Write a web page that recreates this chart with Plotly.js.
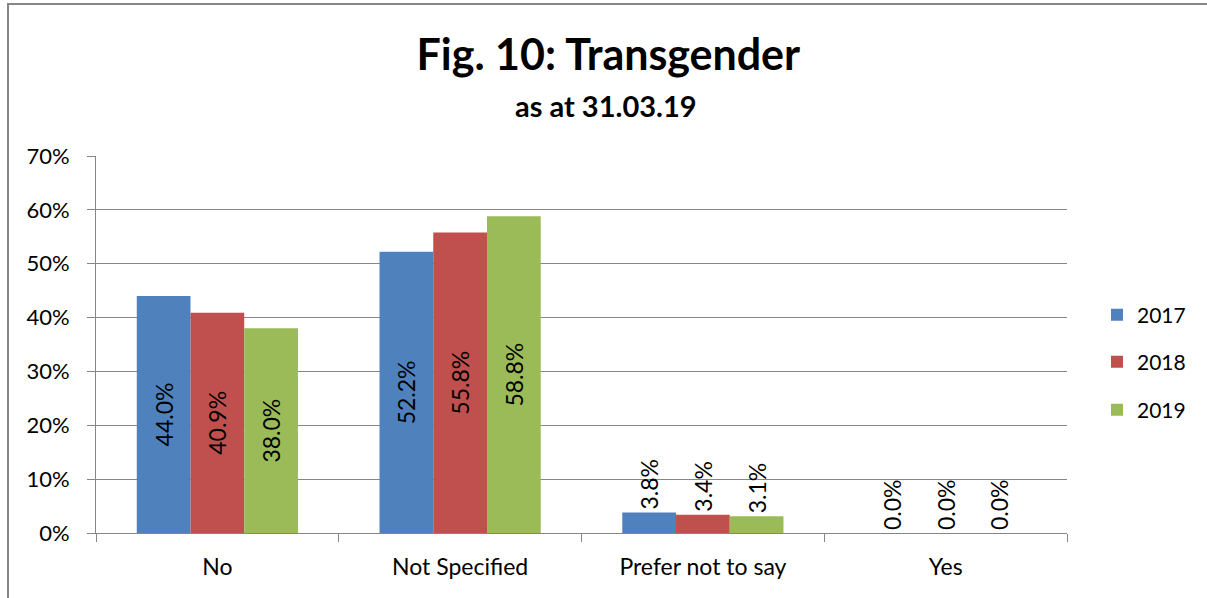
<!DOCTYPE html>
<html><head><meta charset="utf-8">
<script src="https://cdn.plot.ly/plotly-3.0.1.min.js"></script>
<style>html,body{margin:0;padding:0;background:#fff}#chart{width:1207px;height:598px}</style>
</head><body><div id="chart"></div>
<script>
const categories = ["No", "Not Specified", "Prefer not to say", "Yes"];
const years = ["2017", "2018", "2019"];
const v2017 = [0.440, 0.522, 0.038, 0.000];
const v2018 = [0.409, 0.558, 0.034, 0.000];
const v2019 = [0.380, 0.588, 0.031, 0.000];
const colors = ["#4F81BD", "#C0504D", "#9BBB59"];
const series = [v2017, v2018, v2019];
const FONT = "Lato, 'Open Sans', sans-serif";

const legendNames = ["legend", "legend2", "legend3"];
const traces = series.map((vals, i) => ({
  type: "bar", name: years[i], x: categories, y: vals,
  marker: {color: colors[i]},
  text: vals.map(v => (v * 100).toFixed(1) + "%"),
  textposition: vals.map(v => v > 0.1 ? "inside" : "outside"),
  insidetextanchor: "middle",
  textangle: -90, constraintext: "none", cliponaxis: false,
  textfont: {family: FONT, size: 23, color: "#000"},
  insidetextfont: {family: FONT, size: 23, color: "#000"},
  outsidetextfont: {family: FONT, size: 23, color: "#000"},
  legend: legendNames[i], hoverinfo: "none"
}));

const W = 971, H = 377;
const px = x => (x - 96) / W;
const py = y => (533 - y) / H;
const legBase = {xanchor: "left", yanchor: "middle", bgcolor: "rgba(0,0,0,0)", font: {family: FONT, size: 21, color: "#000"}, itemwidth: 30};

const layout = {
  width: 1207, height: 598,
  margin: {l: 96, r: 140, t: 156, b: 65},
  paper_bgcolor: "#fff", plot_bgcolor: "#fff",
  font: {family: FONT, color: "#000"},
  barmode: "group", bargap: 0.336, bargroupgap: 0,
  showlegend: true,
  title: {text: "<b>Fig. 10: Transgender</b>",
          font: {family: FONT, size: 43, color: "#000"}, x: 0.504, xanchor: "center", y: 1 - 55 / 598, yanchor: "middle"},
  annotations: [{text: "<b>as at 31.03.19</b>", xref: "paper", yref: "paper", x: px(606), y: py(105),
                 xanchor: "center", yanchor: "middle", showarrow: false,
                 font: {family: FONT, size: 29, color: "#000"}}],
  xaxis: {type: "category", tickson: "boundaries", ticks: "outside", ticklen: 8, tickcolor: "#868686",
          showline: true, linecolor: "#868686", linewidth: 1, showgrid: false, ticklabelstandoff: 13,
          tickfont: {family: FONT, size: 23, color: "#000"}, fixedrange: true},
  yaxis: {range: [0, 0.7], dtick: 0.1, tickformat: ".0%", ticks: "outside", ticklen: 8, tickcolor: "#868686",
          showline: true, linecolor: "#868686", linewidth: 1, showgrid: true, gridcolor: "#868686", gridwidth: 1,
          zeroline: false, ticklabelstandoff: 13, tickfont: {family: FONT, size: 22, color: "#000"}, fixedrange: true},
  legend: Object.assign({}, legBase, {x: px(1097), y: py(315)}),
  legend2: Object.assign({}, legBase, {x: px(1097), y: py(362)}),
  legend3: Object.assign({}, legBase, {x: px(1097), y: py(410)}),
  shapes: [{type: "rect", xref: "paper", yref: "paper", x0: px(8), x1: px(1212), y0: py(602), y1: py(4),
            line: {color: "#868686", width: 2}, fillcolor: "rgba(0,0,0,0)"}]
};
Plotly.newPlot("chart", traces, layout, {displayModeBar: false, staticPlot: true});
</script></body></html>
